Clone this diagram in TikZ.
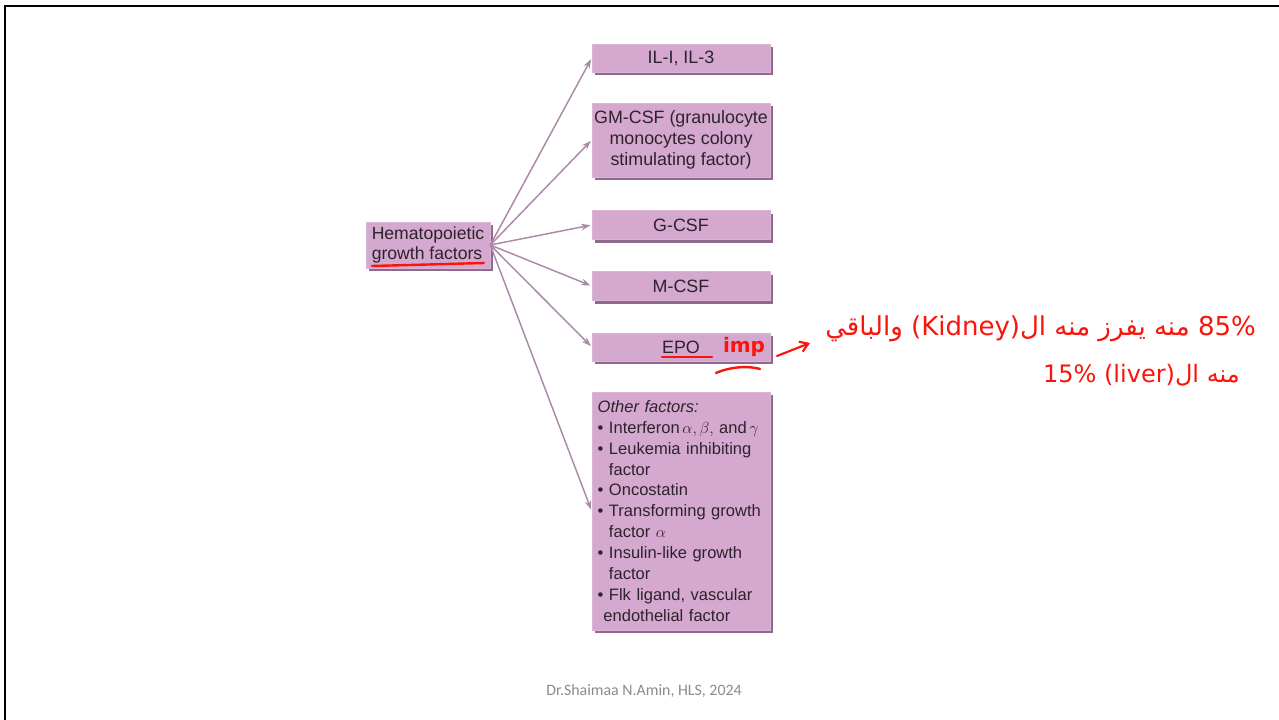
\documentclass[tikz,border=0pt]{standalone}
\usepackage{fontspec}
\setmainfont{Liberation Sans}
\newfontfamily\footfont{Carlito}
\newfontfamily\arabicfont[Script=Arabic]{DejaVu Sans}
\newfontfamily\handfont{DejaVu Sans}
\TeXXeTstate=1
\usetikzlibrary{shadows,arrows.meta}
\definecolor{boxfill}{RGB}{213,168,207}
\definecolor{boxshadow}{RGB}{145,105,140}
\definecolor{boxtext}{RGB}{45,35,45}
\definecolor{arrowc}{RGB}{170,138,168}
\definecolor{inkred}{RGB}{250,20,10}
\definecolor{footgray}{RGB}{140,140,140}
\tikzset{
  fbox/.style={fill=boxfill, draw=boxfill!85!white, line width=0.4pt, text=boxtext,
    font=\fontsize{13.4pt}{16pt}\selectfont, inner sep=0pt, minimum width=133.5pt,
    align=center, drop shadow={shadow xshift=2.6pt, shadow yshift=-2.6pt, fill=boxshadow, opacity=1}},
  arr/.style={draw=arrowc, line width=1.1pt, -{Stealth[length=7pt,width=5pt]}, shorten >=1pt},
  ink/.style={draw=inkred, line width=1.8pt, line cap=round},
}
\begin{document}
\begin{tikzpicture}[x=0.75pt,y=-0.75pt]
\useasboundingbox (0,0) rectangle (1279,720);
\fill[white] (0,0) rectangle (1279,720);
% slide border
\draw[line width=2.2pt] (5,720) -- (5,6) -- (1279,6);

% main node
\node[fbox, minimum width=93pt, minimum height=34.5pt, align=left,
  font=\fontsize{13.2pt}{15.5pt}\selectfont] (main) at (428,245)
  {Hematopoietic\\growth factors};

% right boxes
\node[fbox, minimum height=21pt] (il) at (681,58) {IL-I, IL-3};
\node[fbox, minimum height=55.5pt] (gm) at (681,140)
  {GM-CSF (granulocyte\\monocytes colony\\stimulating factor)};
\node[fbox, minimum height=21.75pt] (g) at (681,225) {G-CSF};
\node[fbox, minimum height=21.75pt] (m) at (681,286) {M-CSF};
\node[fbox, minimum height=21pt] (epo) at (681,347) {EPO};
\node[fbox, minimum height=178.5pt, align=left, text width=125pt,
  font=\fontsize{12.4pt}{15.7pt}\selectfont] (oth) at (681,511)
  {{\itshape Other factors:}\\
   \mbox{\textbullet\ Interferon\,$\alpha,\beta,$ and\,$\gamma$}\\
   \textbullet\ Leukemia inhibiting\\
   \hphantom{\textbullet\ }factor\\
   \textbullet\ Oncostatin\\
   \textbullet\ Transforming growth\\
   \hphantom{\textbullet\ }factor $\alpha$\\
   \textbullet\ Insulin-like growth\\
   \hphantom{\textbullet\ }factor\\
   \textbullet\ Flk ligand, vascular\\
   \hphantom{\textbullet}endothelial factor};

% connectors
\foreach \t in {il,gm,g,m,epo,oth}
  \draw[arr] (main.east) -- (\t.west);

% red annotations
\draw[ink] (372,266) -- (484,263);
\draw[ink] (662,357) -- (712,357);
\node[text=inkred, font=\handfont\bfseries\fontsize{15pt}{17pt}\selectfont, inner sep=0pt] (imp) at (744,347) {imp};
\draw[ink] (716,373) .. controls (732,366) and (750,366) .. (760,369);
\coordinate (annot) at (810,343);
\draw[ink, line width=1.6pt, -{Straight Barb[length=6pt,width=8pt]}] (777,356) -- (annot);

\node[text=inkred, font=\arabicfont\fontsize{19.5pt}{22pt}\selectfont, inner sep=0pt, anchor=east] (ar1) at (1256,329)
  {\beginR\beginL85\%\endL{} منه يفرز منه ال\beginL(Kidney)\endL{} والباقي\endR};
\node[text=inkred, font=\arabicfont\fontsize{18pt}{21pt}\selectfont, inner sep=0pt, anchor=east] (ar2) at (1240,375)
  {\beginR منه ال\beginL(liver)\endL{} \beginL15\%\endL\endR};

% footer
\node[text=footgray, font=\footfont\fontsize{11.9pt}{13pt}\selectfont] (foot) at (644,691) {Dr.Shaimaa N.Amin, HLS, 2024};
\end{tikzpicture}
\end{document}
